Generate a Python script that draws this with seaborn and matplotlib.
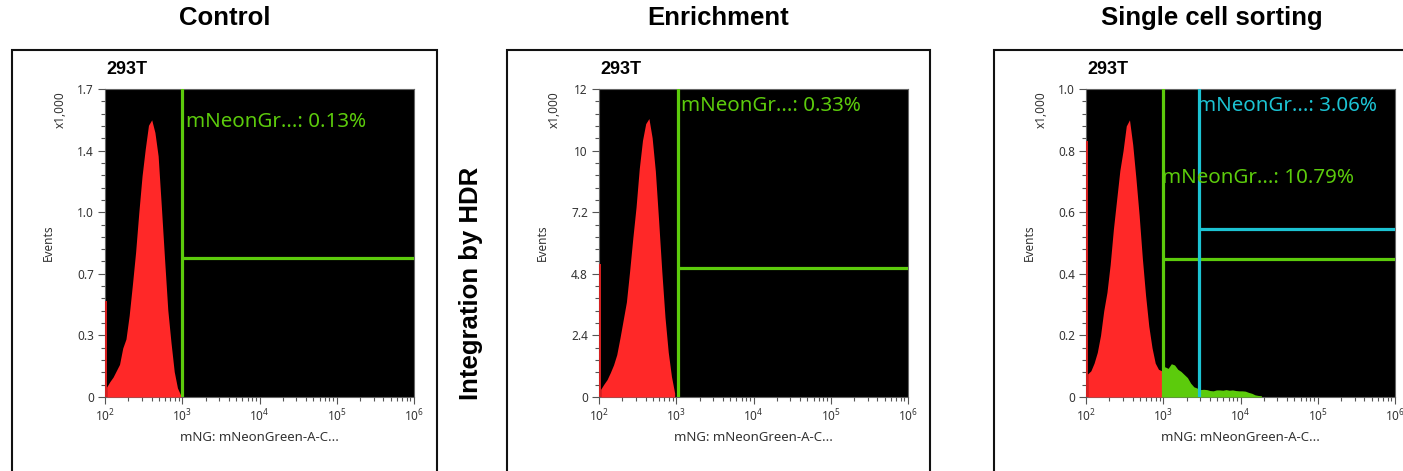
import numpy as np
import matplotlib
matplotlib.use("Agg")
import matplotlib.pyplot as plt
from matplotlib.patches import Rectangle
from matplotlib.ticker import FixedLocator, LogLocator, NullFormatter
import seaborn as sns

sns.set_style("white")
plt.rcParams['font.family'] = ['Noto Sans', 'DejaVu Sans']
plt.rcParams['text.color'] = 'black'
plt.rcParams['mathtext.fontset'] = 'custom'
plt.rcParams['mathtext.rm'] = 'Noto Sans'
plt.rcParams['mathtext.it'] = 'Noto Sans:italic'
plt.rcParams['mathtext.bf'] = 'Noto Sans:bold'

RED = "#ff2828"
GREEN = "#5ccb0c"
CYAN = "#1cc3d3"
TXT = "#333333"

# ---------------------------------------------------------
# data: events (x1,000) per log10 bin
# ---------------------------------------------------------
column_titles = ["Control", "Enrichment", "Single cell sorting"]
row_title = "Integration by HDR"
sample_name = "293T"
x_label = "mNG: mNeonGreen-A-C..."

bin_start = 2.0      # log10 of the first bin edge
bin_width = 1 / 24   # bin width in decades

control_events = [0.055, 0.085, 0.11, 0.145, 0.18, 0.27, 0.32, 0.45, 0.62, 0.80,
                  1.02, 1.22, 1.37, 1.50, 1.53, 1.46, 1.33, 1.05, 0.76, 0.48,
                  0.30, 0.14, 0.05, 0.01]
enrich_events = [0.30, 0.50, 0.68, 0.95, 1.25, 1.65, 2.3, 3.0, 3.7, 4.9,
                 6.2, 7.4, 8.9, 10.0, 10.65, 10.85, 10.1, 8.8, 6.9, 4.9,
                 3.1, 1.75, 0.8, 0.15]
sorting_neg_events = [0.075, 0.085, 0.11, 0.145, 0.20, 0.28, 0.34, 0.43, 0.545, 0.64,
                      0.735, 0.80, 0.88, 0.90, 0.82, 0.71, 0.59, 0.45, 0.33, 0.23,
                      0.16, 0.11, 0.09, 0.085]
sorting_pos_events = [0.095, 0.098, 0.093, 0.108, 0.104, 0.090, 0.083, 0.073, 0.063, 0.045,
                      0.033, 0.029, 0.024, 0.025, 0.024, 0.021, 0.020, 0.023, 0.023, 0.022,
                      0.024, 0.022, 0.023, 0.021, 0.020, 0.020, 0.019, 0.015, 0.012, 0.007,
                      0.005, 0.004]
edge_spike = [0.53, 5.2, 0.83]   # pile-up in the first channel at 10^2

y_max = [1.7, 12, 1.0]
y_tick_labels = [["0", "0.3", "0.7", "1.0", "1.4", "1.7"],
                 ["0", "2.4", "4.8", "7.2", "10", "12"],
                 ["0", "0.2", "0.4", "0.6", "0.8", "1.0"]]

# gates
gate_panel = [0, 1, 2, 2]
gate_x = [1000, 1050, 1000, 2930]
gate_y = [0.769, 5.04, 0.448, 0.545]
gate_text = ["mNeonGr...: 0.13%", "mNeonGr...: 0.33%", "mNeonGr...: 10.79%", "mNeonGr...: 3.06%"]
gate_color = [GREEN, GREEN, GREEN, CYAN]
gate_text_y = [0.893, 0.946, 0.711, 0.946]
gate_text_dx = [3, 2.5, -1, -2]


def draw_hist(ax, values, first_bin, color, element="poly"):
    idx = np.arange(len(values)) + first_bin
    edges = bin_start + np.append(idx, idx[-1] + 1) * bin_width
    centers = 10 ** (bin_start + (idx + 0.5) * bin_width)
    sns.histplot(x=centers, weights=values, bins=edges.tolist(), log_scale=True,
                 element=element, fill=True, color=color, alpha=1,
                 linewidth=0, ax=ax)


# ---------------------------------------------------------
# figure layout (pixels of the 1403x471 picture)
# ---------------------------------------------------------
W, H = 1403, 471
fig = plt.figure(figsize=(W / 100, H / 100), dpi=100)

ax_left = [105, 599, 1086]
ax_w, ax_top, ax_bot = 309, 89, 397
boxes = [(12, 437), (507, 930), (994, 1429)]
box_top = 50

panel_hists = [[(control_events, 0, RED)],
               [(enrich_events, 0, RED)],
               [(sorting_neg_events, 0, RED), (sorting_pos_events, 23, GREEN)]]

axes = []
for i in range(3):
    ax = fig.add_axes([ax_left[i] / W, 1 - ax_bot / H, ax_w / W, (ax_bot - ax_top) / H])
    ax.set_facecolor("black")
    axes.append(ax)

    for values, first_bin, color in panel_hists[i]:
        draw_hist(ax, values, first_bin, color)
    # first channel pile-up (very narrow bin)
    sns.histplot(x=[10 ** 2.012], weights=[edge_spike[i]], bins=[2.0, 2.026],
                 log_scale=True, element="step", fill=True, color="#d42020",
                 alpha=1, linewidth=0, ax=ax)

    ax.set_xlim(1e2, 1e6)
    ax.set_ylim(0, y_max[i])

    ax.xaxis.set_major_locator(LogLocator(base=10))
    ax.xaxis.set_minor_locator(LogLocator(base=10, subs=np.arange(2, 10)))
    ax.xaxis.set_minor_formatter(NullFormatter())
    ax.yaxis.set_major_locator(FixedLocator(np.linspace(0, y_max[i], 6)))
    ax.yaxis.set_minor_locator(FixedLocator(np.linspace(0, y_max[i], 26)))
    ax.set_yticklabels(y_tick_labels[i])

    ax.tick_params(which="both", bottom=True, left=True, direction="out",
                   color="#555555", width=0.8, labelsize=8.5, labelcolor=TXT)
    ax.tick_params(which="major", length=5, pad=3)
    ax.tick_params(which="minor", length=3)
    for s in ax.spines.values():
        s.set_color("#666666")
        s.set_linewidth(0.8)
        s.set_zorder(0.5)

    ax.set_xlabel(x_label, fontsize=9.5, color=TXT)
    ax.xaxis.set_label_coords(0.5, -0.11)
    ax.set_ylabel("Events", fontsize=8.5, color=TXT)
    ax.yaxis.set_label_coords(-0.163, 0.5)
    ax.text(-0.146, 0.932, "x1,000", transform=ax.transAxes, rotation=90,
            ha="center", va="center", fontsize=8.5, color=TXT)

    fig.text((ax_left[i] + 1) / W, 1 - 70 / H, sample_name, fontsize=13,
             family="Liberation Sans", fontweight="bold", ha="left", va="center")

    # outer box and column title
    x0, x1 = boxes[i]
    fig.add_artist(Rectangle((x0 / W, -0.1), (x1 - x0) / W, 1.1 - box_top / H,
                             transform=fig.transFigure, fill=False,
                             lw=1.5, ec="#111111"))
    fig.text((x0 + x1) / 2 / W, 1 - 18 / H, column_titles[i],
             family="Liberation Sans", fontweight="bold", fontsize=18.5,
             ha="center", va="center")

# gates
for p, gx, gy, label, col, ty, dx in zip(gate_panel, gate_x, gate_y, gate_text,
                                          gate_color, gate_text_y, gate_text_dx):
    ax = axes[p]
    ax.axvline(gx, color=col, lw=2.3)
    ax.hlines(gy, gx, 1e6, color=col, lw=2.3)
    ax.annotate(label, xy=(gx, ty), xycoords=("data", "axes fraction"),
                xytext=(dx, 0), textcoords="offset points",
                ha="left", va="center", fontsize=14.8, color=col)

fig.text(471 / W, 1 - 283 / H, row_title, rotation=90, family="Liberation Sans",
         fontweight="bold", fontsize=18.5, ha="center", va="center")

fig.savefig("out.png", dpi=100, facecolor="white")
